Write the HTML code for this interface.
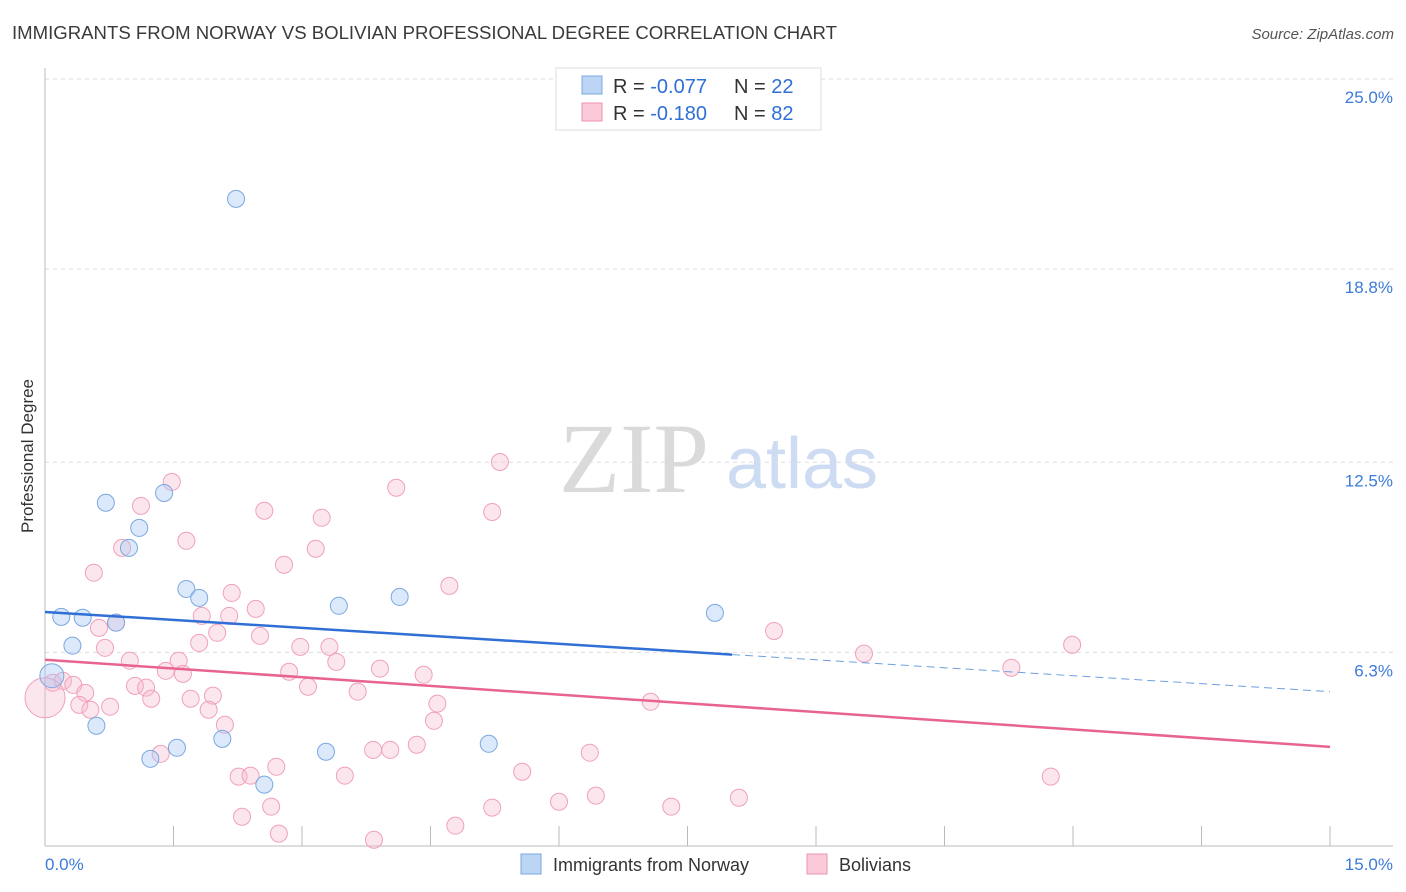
<!DOCTYPE html>
<html><head><meta charset="utf-8"><style>
body{margin:0;background:#fff;font-family:"Liberation Sans",sans-serif;}
</style></head><body>
<svg id="chart" width="1406" height="892" xmlns="http://www.w3.org/2000/svg" style="display:block">
<text x="12" y="39" font-size="18" fill="#3a3a3a" textLength="825" lengthAdjust="spacingAndGlyphs">IMMIGRANTS FROM NORWAY VS BOLIVIAN PROFESSIONAL DEGREE CORRELATION CHART</text>
<text x="1394" y="39" font-size="15" fill="#555" text-anchor="end" font-style="italic">Source: ZipAtlas.com</text>
<g>
<text x="634" y="492" font-size="100" fill="#dadada" font-family="Liberation Serif,serif" text-anchor="middle">ZIP</text>
<text x="802" y="488" font-size="72" fill="#cddcf2" text-anchor="middle">atlas</text>
</g>
<g id="grid"></g>
<g id="axes"></g>
<g id="points"></g>
<g id="trends"></g>
<text transform="translate(33,456) rotate(-90)" font-size="17" fill="#333" text-anchor="middle">Professional Degree</text>
<g>
<rect x="556" y="68" width="265" height="62" fill="#fff" stroke="#ddd"/>
<rect x="582" y="76" width="20" height="18" fill="#bcd5f5" stroke="#7aa8e0"/>
<rect x="582" y="103" width="20" height="18" fill="#fbcad9" stroke="#eb93b2"/>
<text x="613" y="93" font-size="20" fill="#333">R = <tspan fill="#2f6fd6">-0.077</tspan><tspan x="734">N = </tspan><tspan fill="#2f6fd6">22</tspan></text>
<text x="613" y="120" font-size="20" fill="#333">R =  <tspan fill="#2f6fd6">-0.180</tspan><tspan x="734">N = </tspan><tspan fill="#2f6fd6">82</tspan></text>
</g>
<g>
<rect x="521" y="854" width="20" height="20" fill="#bcd5f5" stroke="#7aa8e0"/>
<text x="553" y="871" font-size="18" fill="#333">Immigrants from Norway</text>
<rect x="807" y="854" width="20" height="20" fill="#fbcad9" stroke="#eb93b2"/>
<text x="839" y="871" font-size="18" fill="#333">Bolivians</text>
</g>
</svg>
<script>
const yTicks=[25.0,18.8,12.5,6.3];
const yTickLabels=["25.0%","18.8%","12.5%","6.3%"];
const xTickCount=11;
const norwayX=[2.23,0.71,1.39,1.10,0.98,1.65,1.80,3.43,4.14,7.82,0.19,0.44,0.83,0.32,0.08,0.60,2.07,1.54,1.23,3.28,5.18,2.56];
const norwayY=[21.09,11.18,11.50,10.36,9.71,8.37,8.08,7.82,8.11,7.59,7.46,7.43,7.27,6.52,5.54,3.91,3.48,3.19,2.83,3.06,3.32,1.99];
const bolX=[5.31,4.10,1.48,1.12,2.56,3.23,5.22,1.65,0.90,3.16,2.79,0.57,4.72,2.18,2.46,2.15,1.83,0.83,0.63,2.01,2.51,8.51,11.99,9.56,2.98,3.32,0.70,1.80,0.99,1.56,3.40,3.91,4.42,11.28,2.85,1.41,1.61,0.09,0.21,0.33,0.47,1.05,1.18,3.07,3.65,1.96,1.24,1.70,0.40,0.76,1.91,7.07,4.58,4.54,2.10,0.53,1.35,4.03,3.83,4.34,6.36,2.70,5.57,3.50,2.26,2.40,11.74,6.43,6.00,5.22,2.64,7.31,8.10,2.30,4.79,2.73,3.84,0.00];
const bolY=[12.51,11.67,11.86,11.08,10.92,10.69,10.88,9.94,9.71,9.68,9.16,8.90,8.47,8.24,7.72,7.49,7.49,7.27,7.10,6.94,6.84,7.00,6.55,6.26,6.48,6.48,6.45,6.61,6.03,6.03,5.99,5.77,5.57,5.80,5.67,5.70,5.60,5.31,5.37,5.24,4.98,5.21,5.15,5.18,5.02,4.89,4.79,4.79,4.59,4.53,4.43,4.69,4.63,4.07,3.94,4.43,2.99,3.12,3.12,3.29,3.03,2.57,2.41,2.28,2.25,2.28,2.25,1.63,1.43,1.24,1.27,1.27,1.56,0.94,0.65,0.39,0.19,4.82];
const norwayTrend=[7.62,5.02];
const bolTrend=[6.06,3.22];
const NS="http://www.w3.org/2000/svg";
const X0=45,X1=1330,Y25=79,Y0=845.6;
function sx(v){return X0+(v/15)*(X1-X0);}
function sy(v){return Y0-(v/25)*(Y0-Y25);}
function mk(tag,attrs,parent){const e=document.createElementNS(NS,tag);for(const k in attrs)e.setAttribute(k,attrs[k]);parent.appendChild(e);return e;}
const grid=document.getElementById('grid'),axes=document.getElementById('axes'),pts=document.getElementById('points'),tr=document.getElementById('trends');
yTicks.forEach((t,i)=>{
 const l=mk('line',{x1:45,x2:1393,y1:sy(t),y2:sy(t),stroke:'#ddd','stroke-dasharray':'4,4'},grid);
 
 
 const tx=mk('text',{x:1393,y:sy(t)+24,'font-size':17,fill:'#3d7bd9','text-anchor':'end'},axes);
 tx.textContent=yTickLabels[i];
 
 
});
const ya=mk('line',{x1:45,x2:45,y1:68,y2:846,stroke:'#bbb'},axes);


const xa=mk('line',{x1:45,x2:1393,y1:846,y2:846,stroke:'#bbb'},axes);


for(let i=1;i<xTickCount;i++){
 const xx=sx(i*15/(xTickCount-1));
 const t=mk('line',{x1:xx,x2:xx,y1:826,y2:846,stroke:'#bbb'},axes);
 
 
}
const xl0=mk('text',{x:45,y:870,'font-size':17,fill:'#3d7bd9'},axes);xl0.textContent='0.0%';


const xl1=mk('text',{x:1393,y:870,'font-size':17,fill:'#3d7bd9','text-anchor':'end'},axes);xl1.textContent='15.0%';


bolX.forEach((x,i)=>{
 const big=(i===bolX.length-1);
 const c=mk('circle',{cx:sx(x),cy:sy(bolY[i]),r:big?20:8.5,fill:'rgba(247,182,205,0.35)',stroke:'#f0a0bc','stroke-width':1},pts);
 
 
});
norwayX.forEach((x,i)=>{
 const big=(x<0.1);
 const c=mk('circle',{cx:sx(x),cy:sy(norwayY[i]),r:big?12:8.5,fill:'rgba(168,200,242,0.4)',stroke:'#7aa8e0','stroke-width':1},pts);
 
 
});
const xs=8.02;
const nb=norwayTrend[0]+(norwayTrend[1]-norwayTrend[0])*xs/15;
const t1=mk('line',{x1:sx(0),y1:sy(norwayTrend[0]),x2:sx(xs),y2:sy(nb),stroke:'#2f6fd6','stroke-width':2.5},tr);


const t2=mk('line',{x1:sx(xs),y1:sy(nb),x2:sx(15),y2:sy(norwayTrend[1]),stroke:'#6d9fe0','stroke-width':1,'stroke-dasharray':'8,5'},tr);


const t3=mk('line',{x1:sx(0),y1:sy(bolTrend[0]),x2:sx(15),y2:sy(bolTrend[1]),stroke:'#e8648f','stroke-width':2.5},tr);


</script>
</body></html>
